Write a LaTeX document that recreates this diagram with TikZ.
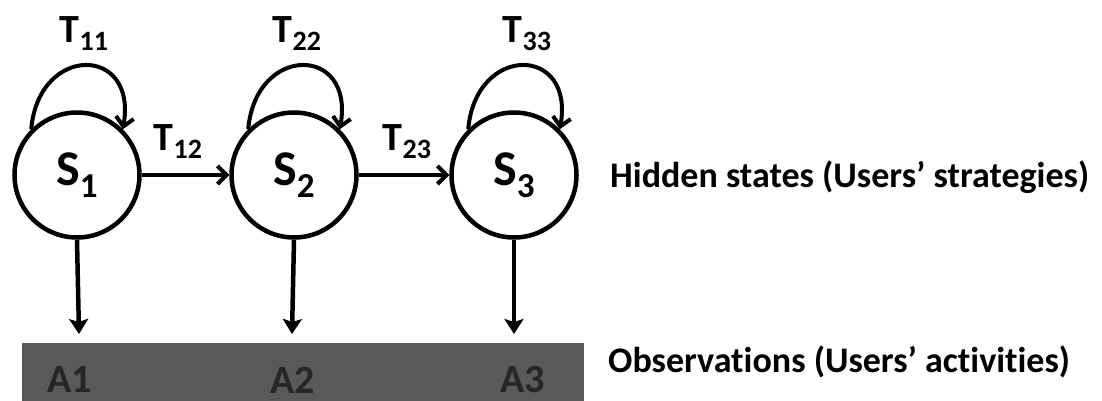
\documentclass[tikz,border=0pt]{standalone}
\usepackage{fontspec}
\setmainfont{Carlito}[Ligatures=NoCommon]
\usetikzlibrary{arrows.meta}
\newcommand\lowsub[2]{\raisebox{-#2}{\scalebox{0.7}{#1}}}
\begin{document}
\begin{tikzpicture}[x=1pt,y=-1pt,
  state/.style={circle,draw=black,line width=4.5pt,minimum size=125pt,inner sep=0pt,
    font=\fontsize{50}{50}\selectfont\bfseries},
  tlabel/.style={font=\fontsize{40}{40}\selectfont\bfseries,inner sep=0pt},
  obs/.style={font=\fontsize{40}{40}\selectfont\bfseries,text=black!85,inner sep=0pt},
  side/.style={font=\fontsize{36}{36}\selectfont\bfseries,anchor=base west,inner sep=0pt},
  edge/.style={line width=4pt,-{Straight Barb[length=9pt,width=18pt,line width=4pt]}},
  down/.style={line width=4.5pt,-{Stealth[length=15pt,width=19pt,inset=3pt]}}]
\useasboundingbox (0,0) rectangle (1102,401);
\node[fill=black!65,minimum width=562pt,minimum height=58pt,inner sep=0pt,anchor=north west] (bar) at (22,343) {};
\node[state] (s1) at (77,175) {S\lowsub{1}{0.25em}};
\node[state] (s2) at (294,175) {S\lowsub{2}{0.25em}};
\node[state] (s3) at (514,175) {S\lowsub{3}{0.25em}};
\coordinate (a1t) at (79,334);
\coordinate (a2t) at (292,334);
\coordinate (a3t) at (514,334);
\node[obs] (a1) at (70,380) {A1};
\node[obs] (a2) at (293,380) {A2};
\node[obs] (a3) at (523,380) {A3};
\node[tlabel] (t11) at (84,34) {T\lowsub{11}{0.2em}};
\node[tlabel] (t22) at (297,34) {T\lowsub{22}{0.2em}};
\node[tlabel] (t33) at (527,34) {T\lowsub{33}{0.2em}};
\node[tlabel] (t12) at (178,142) {T\lowsub{12}{0.2em}};
\node[tlabel] (t23) at (407,142) {T\lowsub{23}{0.2em}};
\node[side] (hid) at (610,187) {Hidden states (Users’ strategies)};
\node[side] (obsl) at (608,372) {Observations (Users’ activities)};
\draw[edge] (s1.135) to[out=85,in=80,looseness=2.4] (s1.45);
\draw[edge] (s2.135) to[out=85,in=80,looseness=2.4] (s2.45);
\draw[edge] (s3.135) to[out=85,in=80,looseness=2.4] (s3.45);
\draw[edge] (s1) -- (s2);
\draw[edge] (s2) -- (s3);
\draw[down] (s1.south) -- (a1t);
\draw[down] (s2.south) -- (a2t);
\draw[down] (s3.south) -- (a3t);
\end{tikzpicture}
\end{document}
